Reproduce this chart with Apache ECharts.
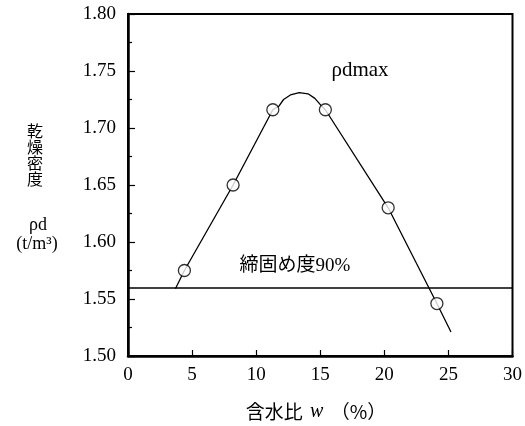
<!DOCTYPE html>
<html>
<head>
<meta charset="utf-8">
<script src="https://cdn.jsdelivr.net/npm/echarts@6/dist/echarts.min.js"></script>
<style>
html,body{margin:0;padding:0;background:#fff;}
#c{width:525px;height:426px;}
</style>
</head>
<body>
<div id="c"></div>
<script>
// Measured points (water content %, dry density t/m3)
const wMeasured = [4.4, 8.2, 11.3, 15.4, 20.3, 24.1];
const rhoMeasured = [1.575, 1.650, 1.716, 1.716, 1.630, 1.546];
// Compaction curve as drawn
const curveW = [3.7, 4.4, 8.2, 11.3, 11.76, 12.14, 12.67, 13.36, 14.05, 14.58, 15.04, 15.4, 20.3, 24.1, 25.2];
const curveRho = [1.559, 1.575, 1.650, 1.716, 1.719, 1.725, 1.729, 1.731, 1.730, 1.726, 1.720, 1.716, 1.630, 1.546, 1.521];
// 90% compaction level
const compactionLevel = [1.557];
// Axes
const xTicks = [0, 5, 10, 15, 20, 25, 30];
const yTicks = ['1.50', '1.55', '1.60', '1.65', '1.70', '1.75', '1.80'];

const SERIF = "'Liberation Serif','Times New Roman','Noto Sans CJK JP',serif";
const CJK = "'Liberation Serif','Noto Sans CJK JP',serif";

const chart = echarts.init(document.getElementById('c'), null, {renderer: 'canvas'});
chart.setOption({
  backgroundColor: '#fff',
  animation: false,
  grid: {left: 128, top: 14, right: 4, bottom: 70, show: true, borderColor: '#000', borderWidth: 2, backgroundColor: 'transparent'},
  xAxis: {
    type: 'value', min: xTicks[0], max: xTicks[xTicks.length - 1], interval: 5,
    axisLine: {show: true, lineStyle: {color: '#000', width: 2.5}},
    axisTick: {show: true, inside: true, length: 6, lineStyle: {color: '#000', width: 1.2}},
    axisLabel: {color: '#000', fontFamily: SERIF, fontSize: 19, margin: 10},
    splitLine: {show: false}
  },
  yAxis: {
    type: 'value', min: parseFloat(yTicks[0]), max: parseFloat(yTicks[yTicks.length - 1]), interval: 0.05,
    axisLine: {show: true, lineStyle: {color: '#000', width: 2.5}},
    axisTick: {show: true, inside: true, length: 7, lineStyle: {color: '#000', width: 1.2}},
    minorTick: {show: true, splitNumber: 2, length: 4, lineStyle: {color: '#000', width: 1.2}},
    axisLabel: {color: '#000', fontFamily: SERIF, fontSize: 19, margin: 12, formatter: v => v.toFixed(2)},
    splitLine: {show: false}
  },
  series: [
    {
      type: 'line',
      data: curveW.map((w, i) => [w, curveRho[i]]),
      showSymbol: false, symbol: 'none',
      lineStyle: {color: '#000', width: 1.3},
      z: 2,
      markLine: {
        silent: true, symbol: 'none', label: {show: false},
        lineStyle: {color: '#000', width: 1.5, type: 'solid'},
        data: [{yAxis: compactionLevel[0]}]
      }
    },
    {
      type: 'scatter',
      data: wMeasured.map((w, i) => [w, rhoMeasured[i]]),
      symbol: 'circle', symbolSize: 12,
      itemStyle: {color: '#fff', borderColor: '#000', borderWidth: 1.3},
      z: 3
    }
  ],
  graphic: [
    {type: 'text', x: 35, y: 123, style: {text: '乾\n燥\n密\n度', fontFamily: "'Noto Sans CJK JP'", fontSize: 16, lineHeight: 16, fill: '#000', align: 'center', verticalAlign: 'top'}},
    {type: 'text', x: 38, y: 225, style: {text: 'ρd', fontFamily: SERIF, fontSize: 18, fill: '#000', align: 'center', verticalAlign: 'middle'}},
    {type: 'text', x: 37, y: 244, style: {text: '(t/m³)', fontFamily: SERIF, fontSize: 18, fill: '#000', align: 'center', verticalAlign: 'middle'}},
    {type: 'text', x: 360, y: 70, style: {text: 'ρdmax', fontFamily: SERIF, fontSize: 21, fill: '#000', align: 'center', verticalAlign: 'middle'}},
    {type: 'text', x: 295, y: 266, style: {text: '締固め度90%', fontFamily: CJK, fontSize: 19, fill: '#000', align: 'center', verticalAlign: 'middle'}},
    {type: 'text', x: 316, y: 412, style: {
      text: '{c|含水比} {w|w} {c|（%）}',
      align: 'center', verticalAlign: 'middle',
      rich: {
        c: {fontFamily: "'Noto Sans CJK JP'", fontSize: 19, fill: '#000'},
        w: {fontFamily: SERIF, fontStyle: 'italic', fontSize: 20, fill: '#000', padding: [0, 4, 0, 4]}
      }
    }}
  ]
});
</script>
</body>
</html>
